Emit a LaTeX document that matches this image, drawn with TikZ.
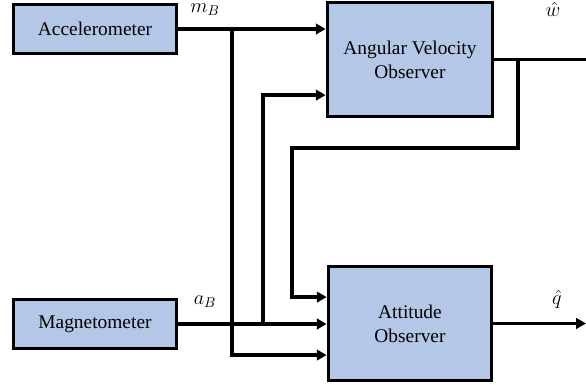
\documentclass[tikz,border=0pt]{standalone}
\usepackage{fontspec}
\setmainfont{Liberation Serif}
\newfontfamily\blockfont{Liberation Serif}
\usetikzlibrary{arrows.meta}
\definecolor{boxblue}{RGB}{180,199,231}

\begin{document}
\begin{tikzpicture}[
  block/.style={draw=black, line width=2.6pt, fill=boxblue, align=center,
    inner sep=0pt, font=\blockfont\fontsize{13.8}{17}\selectfont},
  wire/.style={line width=2.4pt},
  arr/.style={wire, -{Triangle[length=7pt,width=7.5pt]}},
  lbl/.style={font=\fontsize{14}{16}\selectfont}
]
\useasboundingbox (0,0) rectangle (14.65,9.625);

% sensors
\node[block, minimum width=4.075cm, minimum height=1.225cm] (acc) at (2.375,8.9) {Accelerometer};
\node[block, minimum width=4.075cm, minimum height=1.225cm] (mag) at (2.375,1.525) {Magnetometer};

% observers
\node[block, minimum width=4.125cm, minimum height=2.85cm] (avo) at (10.25,8.1375) {Angular Velocity\\Observer};
\node[block, minimum width=4.075cm, minimum height=2.85cm] (ao) at (10.25,1.5375) {Attitude\\Observer};

% branch points
\coordinate (jm) at (5.8,8.9);
\coordinate (ja) at (6.575,1.525);
\coordinate (jw) at (12.95,8.1375);
\coordinate (fb) at (7.3,5.925);
\coordinate (wout) at (14.65,8.1375);
\coordinate (qout) at (14.65,1.5375);

% m_B
\draw[arr] (acc.east) -- (acc.east -| avo.west);
\draw[arr] (jm) |- ([yshift=-0.79cm]ao.west);
% a_B
\draw[arr] (mag.east) -- (mag.east -| ao.west);
\draw[arr] (ja) |- ([yshift=-0.89cm]avo.west);
% w hat, fed back to the attitude observer
\draw[wire] (avo.east) -- (wout);
\draw[arr] (jw) |- (fb) |- ([yshift=0.66cm]ao.west);
% q hat
\draw[arr] (ao.east) -- (qout);

\node[lbl] (mblbl) at (5.125,9.38) {$m_B$};
\node[lbl] (ablbl) at (5.125,2.075) {$a_B$};
\node[lbl] (wlbl) at (13.825,9.38) {$\hat{w}$};
\node[lbl] (qlbl) at (13.925,2.15) {$\hat{q}$};
\end{tikzpicture}
\end{document}
